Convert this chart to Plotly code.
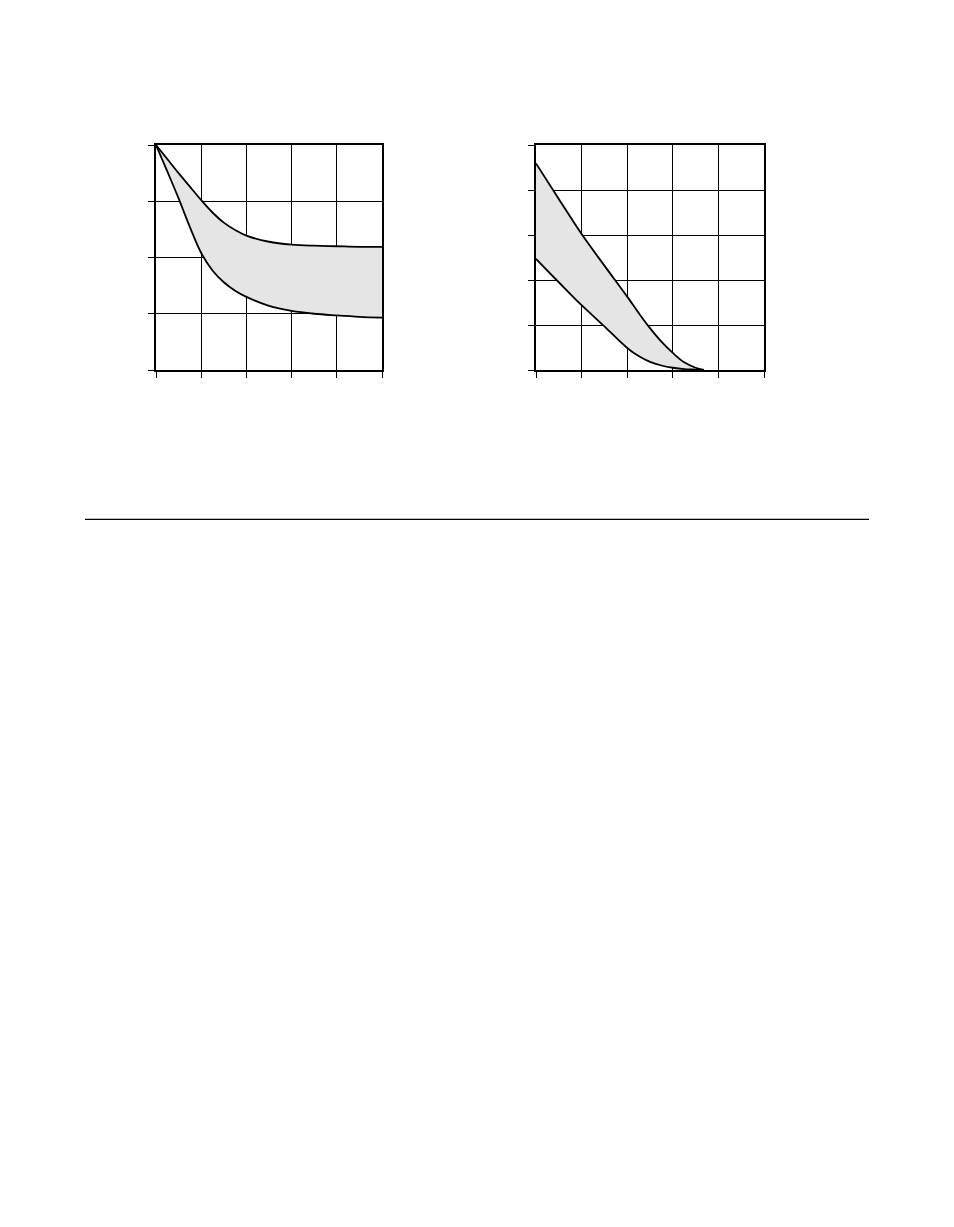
import plotly.graph_objs as go

# left panel: band between two decaying curves
left_x = [0, 0.25, 0.5, 0.75, 1, 1.25, 1.5, 1.75, 2, 2.5, 3, 3.5, 4, 4.5, 5]
left_upper = [4, 3.75, 3.5, 3.26, 3.02, 2.8, 2.62, 2.49, 2.39, 2.28, 2.23, 2.21, 2.2, 2.19, 2.19]
left_lower = [4, 3.53, 3.05, 2.54, 2.08, 1.77, 1.56, 1.41, 1.3, 1.14, 1.05, 1.0, 0.97, 0.945, 0.93]

# right panel: band that closes on the x axis
right_x = [0, 0.5, 1, 1.5, 2, 2.25, 2.5, 2.75, 3, 3.25, 3.5, 3.68]
right_upper = [4.59, 3.8, 3.02, 2.32, 1.63, 1.27, 0.93, 0.63, 0.38, 0.17, 0.05, 0]
right_lower = [2.47, 1.95, 1.44, 0.97, 0.49, 0.31, 0.18, 0.1, 0.05, 0.02, 0.01, 0]

fill_color = '#e5e5e5'
line_style = dict(color='black', width=1.8, shape='spline', smoothing=1.0)

graph_data = [
    go.Scatter(x=left_x, y=left_lower, mode='lines', line=line_style,
               xaxis='x', yaxis='y', hoverinfo='skip'),
    go.Scatter(x=left_x, y=left_upper, mode='lines', line=line_style,
               fill='tonexty', fillcolor=fill_color,
               xaxis='x', yaxis='y', hoverinfo='skip'),
    go.Scatter(x=right_x, y=right_lower, mode='lines', line=line_style,
               xaxis='x2', yaxis='y2', hoverinfo='skip'),
    go.Scatter(x=right_x, y=right_upper, mode='lines', line=line_style,
               fill='tonexty', fillcolor=fill_color,
               xaxis='x2', yaxis='y2', hoverinfo='skip'),
]


def axis(rng, domain, anchor):
    return dict(
        range=rng,
        domain=domain,
        anchor=anchor,
        dtick=1,
        showgrid=True,
        gridcolor='black',
        gridwidth=1,
        showline=True,
        linecolor='black',
        linewidth=2,
        mirror=True,
        ticks='outside',
        ticklen=6,
        tickwidth=1,
        tickcolor='black',
        showticklabels=False,
        zeroline=False,
        fixedrange=True,
    )


# the page body adds an 8px margin, so pixel positions are shifted back by 8
W, H, OFF = 954, 1227, 8


def px_x(v):
    return (v - OFF) / W


def px_y(v):
    return 1 - (v - OFF) / H


y_dom = [px_y(370), px_y(145)]

layout = go.Layout(
    width=W,
    height=H,
    margin=dict(l=0, r=0, t=0, b=0),
    paper_bgcolor='white',
    plot_bgcolor='white',
    showlegend=False,
    xaxis=axis([0, 5], [px_x(156), px_x(382)], 'y'),
    yaxis=axis([0, 4], y_dom, 'x'),
    xaxis2=axis([0, 5], [px_x(536), px_x(764)], 'y2'),
    yaxis2=axis([0, 5], y_dom, 'x2'),
    shapes=[
        dict(type='line', xref='paper', yref='paper',
             x0=px_x(85), x1=px_x(869),
             y0=px_y(519.3), y1=px_y(519.3),
             line=dict(color='black', width=1.2)),
    ],
)

fig = go.Figure(data=graph_data, layout=layout)
fig.write_html("out.html")
